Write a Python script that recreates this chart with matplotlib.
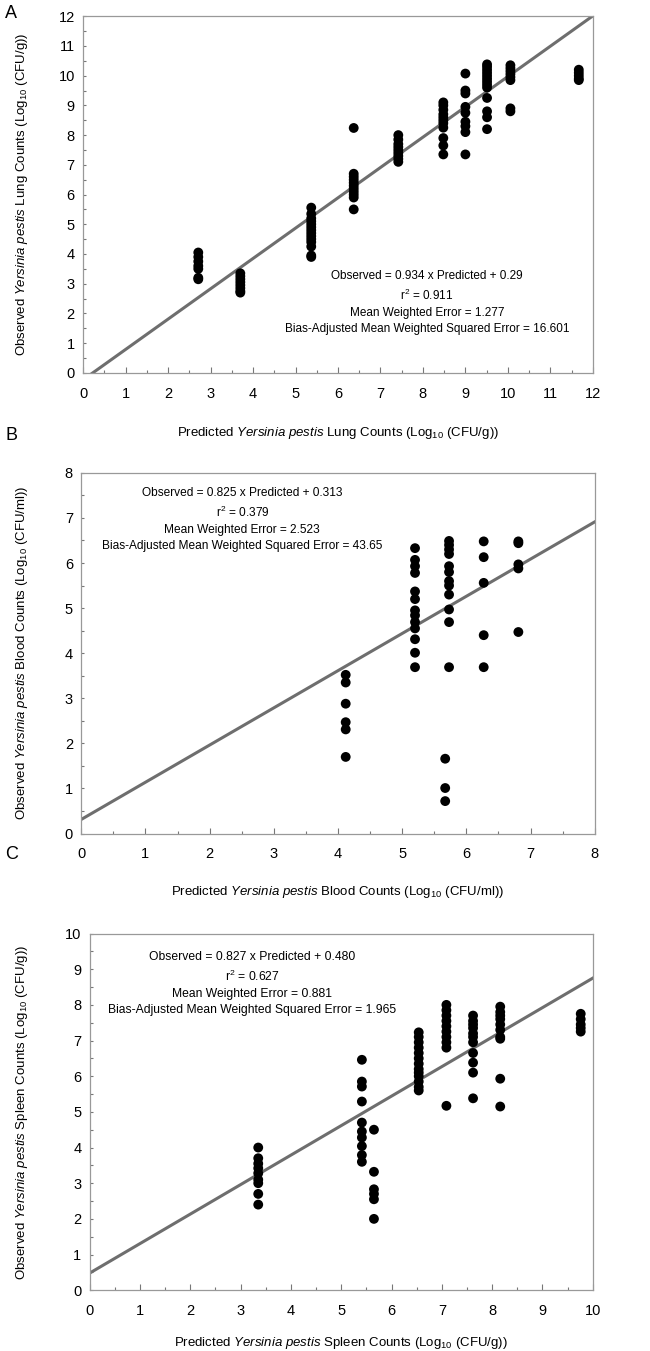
import numpy as np
import matplotlib
matplotlib.use('Agg')
import matplotlib.pyplot as plt
from matplotlib.ticker import MultipleLocator

plt.rcParams['font.family'] = ['Liberation Sans', 'DejaVu Sans']
plt.rcParams['mathtext.fontset'] = 'custom'
plt.rcParams['mathtext.rm'] = 'Liberation Sans'
plt.rcParams['mathtext.it'] = 'Liberation Sans:italic'

# Panel A - lung
lung_pred = [2.71] * 7 + [3.70] * 8 + [5.37] * 14 + [6.37] * 11 + [7.42] * 9 \
    + [8.48] * 11 + [9.00] * 9 + [9.51] * 13 + [10.06] * 8 + [11.67] * 5
lung_obs = [4.05, 3.9, 3.75, 3.6, 3.5, 3.2, 3.15,
            3.35, 3.25, 3.15, 3.05, 2.95, 2.85, 2.75, 2.7,
            5.56, 5.35, 5.2, 5.1, 5.0, 4.9, 4.8, 4.7, 4.6, 4.5, 4.4, 4.25, 3.95, 3.9,
            8.24, 6.7, 6.6, 6.5, 6.4, 6.3, 6.2, 6.1, 6.0, 5.9, 5.5,
            8.0, 7.85, 7.7, 7.6, 7.5, 7.4, 7.3, 7.2, 7.1,
            9.1, 9.0, 8.85, 8.7, 8.6, 8.5, 8.4, 8.25, 7.9, 7.65, 7.35,
            10.07, 9.5, 9.4, 8.95, 8.75, 8.45, 8.3, 8.1, 7.35,
            10.38, 10.3, 10.2, 10.1, 10.0, 9.9, 9.8, 9.7, 9.6, 9.25, 8.8, 8.6, 8.2,
            10.35, 10.25, 10.15, 10.05, 9.95, 9.85, 8.9, 8.8,
            10.2, 10.1, 10.0, 9.9, 9.85]
lung_line = (1.02, -0.23)   # slope, intercept as drawn
lung_stats = ['Observed = 0.934 x Predicted + 0.29', 'r$^2$ = 0.911',
              'Mean Weighted Error = 1.277',
              'Bias-Adjusted Mean Weighted Squared Error = 16.601']

# Panel B - blood
blood_pred = [4.12] * 6 + [5.20] * 13 + [5.73] * 12 + [5.67] * 3 + [6.27] * 5 + [6.81] * 5
blood_obs = [3.52, 3.35, 2.88, 2.47, 2.31, 1.70,
             6.33, 6.07, 5.93, 5.78, 5.37, 5.2, 4.95, 4.84, 4.69, 4.55, 4.31, 4.01, 3.69,
             6.49, 6.4, 6.3, 6.2, 5.93, 5.8, 5.6, 5.5, 5.3, 4.97, 4.69, 3.69,
             1.66, 1.01, 0.72,
             6.48, 6.13, 5.56, 4.40, 3.69,
             6.48, 6.44, 5.97, 5.88, 4.47]
blood_line = (0.825, 0.313)
blood_stats = ['Observed = 0.825 x Predicted + 0.313', 'r$^2$ = 0.379',
               'Mean Weighted Error = 2.523',
               'Bias-Adjusted Mean Weighted Squared Error = 43.65']

# Panel C - spleen
spleen_pred = [3.35] * 9 + [5.41] * 10 + [5.65] * 6 + [6.54] * 13 + [7.09] * 10 \
    + [7.62] * 11 + [8.16] * 10 + [9.76] * 5
spleen_obs = [4.0, 3.7, 3.55, 3.42, 3.28, 3.1, 3.0, 2.7, 2.4,
              6.46, 5.85, 5.71, 5.29, 4.7, 4.45, 4.28, 4.04, 3.79, 3.6,
              4.5, 3.32, 2.83, 2.7, 2.55, 2.0,
              7.23, 7.1, 6.95, 6.8, 6.65, 6.5, 6.35, 6.2, 6.1, 6.0, 5.85, 5.7, 5.6,
              8.0, 7.85, 7.7, 7.55, 7.4, 7.25, 7.1, 6.95, 6.8, 5.17,
              7.7, 7.55, 7.45, 7.35, 7.2, 7.1, 6.95, 6.65, 6.38, 6.1, 5.38,
              7.95, 7.8, 7.7, 7.6, 7.45, 7.3, 7.1, 7.05, 5.93, 5.15,
              7.75, 7.6, 7.45, 7.35, 7.25]
spleen_line = (0.827, 0.480)
spleen_stats = ['Observed = 0.827 x Predicted + 0.480', 'r$^2$ = 0.627',
                'Mean Weighted Error = 0.881',
                'Bias-Adjusted Mean Weighted Squared Error = 1.965']

SP = r'$\mathit{Yersinia\ pestis}$'
panels = [
    dict(tag='A', pos=[0.128, 0.724, 0.784, 0.264], lim=12,
         x=lung_pred, y=lung_obs, line=lung_line, stats=lung_stats,
         txt=(8.09, 3.45), fs=8.5, xlc=-0.146, ylc=-0.104, tagy=0.996,
         xl='Predicted ' + SP + ' Lung Counts (Log$_{10}$ (CFU/g))',
         yl='Observed ' + SP + ' Lung Counts (Log$_{10}$ (CFU/g))'),
    dict(tag='B', pos=[0.125, 0.383, 0.790, 0.267], lim=8,
         x=blood_pred, y=blood_obs, line=blood_line, stats=blood_stats,
         txt=(2.51, 7.68), fs=8.6, xlc=-0.139, ylc=-0.099, tagy=0.684,
         xl='Predicted ' + SP + ' Blood Counts (Log$_{10}$ (CFU/ml))',
         yl='Observed ' + SP + ' Blood Counts (Log$_{10}$ (CFU/ml))'),
    dict(tag='C', pos=[0.138, 0.045, 0.774, 0.264], lim=10,
         x=spleen_pred, y=spleen_obs, line=spleen_line, stats=spleen_stats,
         txt=(3.23, 9.5), fs=8.7, xlc=-0.126, ylc=-0.119, tagy=0.374,
         xl='Predicted ' + SP + ' Spleen Counts (Log$_{10}$ (CFU/g))',
         yl='Observed ' + SP + ' Spleen Counts (Log$_{10}$ (CFU/g))'),
]

fig = plt.figure(figsize=(6.5, 13.51), dpi=100)

for p in panels:
    ax = fig.add_axes(p['pos'])
    lim = p['lim']

    # regression line
    xs = np.array([0, lim])
    ax.plot(xs, p['line'][0] * xs + p['line'][1], color='#6e6e6e', lw=2.2, zorder=2)

    # points
    ax.scatter(p['x'], p['y'], s=50, color='black', edgecolors='none', zorder=3)

    ax.set_xlim(0, lim)
    ax.set_ylim(0, lim)
    ax.xaxis.set_major_locator(MultipleLocator(1))
    ax.xaxis.set_minor_locator(MultipleLocator(0.5))
    ax.yaxis.set_major_locator(MultipleLocator(1))
    ax.yaxis.set_minor_locator(MultipleLocator(0.5))
    ax.tick_params(axis='x', which='major', direction='in', length=4.5, width=0.8,
                   color='#777777', labelsize=10.5, pad=10)
    ax.tick_params(axis='x', which='minor', direction='in', length=2.5, width=0.8,
                   color='#777777')
    ax.tick_params(axis='y', which='both', direction='in', length=2.5, width=0.8,
                   color='#777777', labelsize=10.5, pad=6)
    for s in ax.spines.values():
        s.set_color('#999999')
        s.set_linewidth(0.9)

    ax.set_xlabel(p['xl'], fontsize=9.5)
    ax.set_ylabel(p['yl'], fontsize=9.5)
    ax.xaxis.set_label_coords(0.5, p['xlc'])
    ax.yaxis.set_label_coords(p['ylc'], 0.5)

    # stats text
    ax.text(p['txt'][0], p['txt'][1], '\n'.join(p['stats']), ha='center', va='top',
            multialignment='center', fontsize=p['fs'], linespacing=1.45, zorder=4)

    fig.text(0.008, p['tagy'], p['tag'], fontsize=13, va='top', ha='left')

fig.savefig('out.png', dpi=100)
